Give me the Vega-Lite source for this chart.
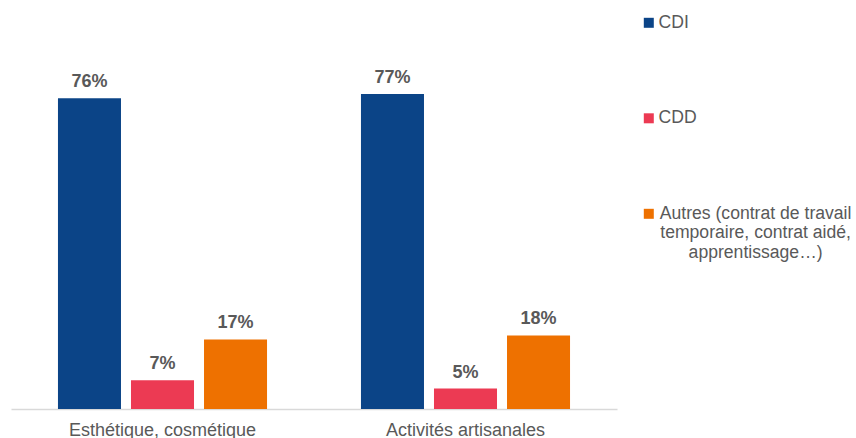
{
  "$schema": "https://vega.github.io/schema/vega-lite/v6.json",
  "width": 606,
  "height": 409,
  "autosize": {"type": "none"},
  "padding": {"left": 11, "top": 0, "right": 239, "bottom": 29},
  "background": "white",
  "config": {"view": {"stroke": null}, "font": "Liberation Sans"},
  "data": {
    "values": [
      {"secteur": "Esthétique, cosmétique", "contrat": "CDI", "valeur": 0.76},
      {"secteur": "Esthétique, cosmétique", "contrat": "CDD", "valeur": 0.07},
      {"secteur": "Esthétique, cosmétique", "contrat": "Autres", "valeur": 0.17},
      {"secteur": "Activités artisanales", "contrat": "CDI", "valeur": 0.77},
      {"secteur": "Activités artisanales", "contrat": "CDD", "valeur": 0.05},
      {"secteur": "Activités artisanales", "contrat": "Autres", "valeur": 0.18}
    ]
  },
  "encoding": {
    "x": {
      "field": "secteur",
      "type": "nominal",
      "sort": ["Esthétique, cosmétique", "Activités artisanales"],
      "scale": {"paddingInner": 0.31, "paddingOuter": 0.155},
      "axis": {
        "title": null,
        "labelAngle": 0,
        "ticks": false,
        "labelPadding": 12,
        "labelFontSize": 18,
        "labelColor": "#595959",
        "labelFont": "Liberation Sans",
        "domainColor": "#D9D9D9",
        "domainWidth": 1.5,
        "labelLimit": 300
      }
    },
    "xOffset": {
      "field": "contrat",
      "type": "nominal",
      "sort": ["CDI", "CDD", "Autres"],
      "scale": {"paddingInner": 0.137, "paddingOuter": 0}
    },
    "y": {
      "field": "valeur",
      "type": "quantitative",
      "scale": {"domain": [0, 1], "nice": false},
      "axis": null
    }
  },
  "layer": [
    {
      "mark": {"type": "bar"},
      "encoding": {
        "color": {
          "field": "contrat",
          "type": "nominal",
          "scale": {
            "domain": ["CDI", "CDD", "Autres"],
            "range": ["#0B4487", "#EC3A53", "#EE7100"]
          },
          "legend": {
            "title": null,
            "orient": "none",
            "legendX": 629,
            "legendY": 14,
            "padding": 0,
            "symbolType": "square",
            "symbolSize": 100,
            "symbolStrokeWidth": 0,
            "labelFontSize": 17.6,
            "labelColor": "#595959",
            "labelFont": "Liberation Sans",
            "labelLimit": 400,
            "labelOffset": 1,
            "rowPadding": 76.5,
            "labelExpr": "datum.label == 'Autres' ? ['Autres (contrat de travail', 'temporaire, contrat aidé,', 'apprentissage…)'] : datum.label",
            "encode": {
              "labels": {
                "update": {
                  "align": {"signal": "datum.value == 'Autres' ? 'center' : 'left'"},
                  "dx": {"signal": "datum.value == 'Autres' ? 97 : 0"}
                }
              }
            }
          }
        }
      }
    },
    {
      "mark": {
        "type": "text",
        "baseline": "alphabetic",
        "dy": -11,
        "fontSize": 18,
        "fontWeight": "bold",
        "color": "#595959",
        "font": "Liberation Sans"
      },
      "encoding": {
        "text": {"field": "valeur", "type": "quantitative", "format": ".0%"}
      }
    }
  ]
}
